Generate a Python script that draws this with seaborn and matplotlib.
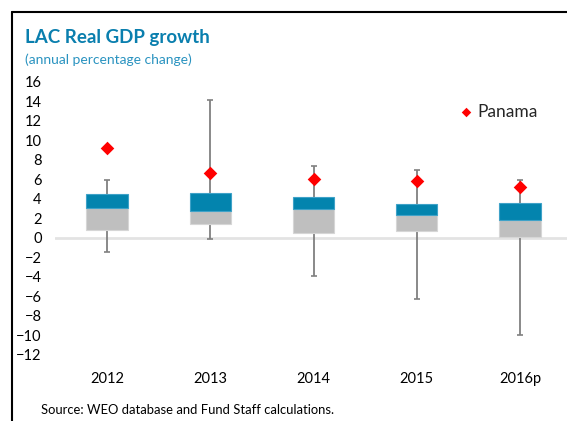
import numpy as np
import matplotlib
matplotlib.use('Agg')
import matplotlib.pyplot as plt
import seaborn as sns
from matplotlib.lines import Line2D

# values (percent)
years = ['2012', '2013', '2014', '2015', '2016p']
whisk_low = [-1.45, -0.1, -3.9, -6.25, -10.0]
box_low = [0.8, 1.45, 0.5, 0.75, 0.15]
box_mid = [3.1, 2.8, 3.0, 2.4, 1.8]
box_high = [4.5, 4.65, 4.2, 3.5, 3.55]
whisk_high = [5.95, 14.1, 7.4, 7.0, 5.95]
panama = [9.2, 6.7, 6.1, 5.8, 5.2]

blue = '#0384AE'
grey = '#BFBFBF'

sns.set_style('white')
plt.rcParams['font.family'] = ['Lato', 'DejaVu Sans']

fig = plt.figure(figsize=(5.67, 4.21), dpi=100)
ax = fig.add_axes([0.0977, 0.1568, 0.9023, 0.6485])

# zero line
ax.axhline(0, color='#E3E3E3', lw=2, zorder=0)

# whiskers (min - max)
pos = np.arange(len(years))
ax.errorbar(pos, box_mid,
            yerr=[np.subtract(box_mid, whisk_low), np.subtract(whisk_high, box_mid)],
            fmt='none', ecolor='#808080', elinewidth=1.3, capsize=2.2, capthick=1.2, zorder=1)

# lower part of the box: grey, upper part: blue
sns.barplot(x=years, y=np.subtract(box_mid, box_low), bottom=box_low, color=grey,
            width=0.4, edgecolor='#D6D6D6', linewidth=0.8, saturation=1, ax=ax, zorder=2)
sns.barplot(x=years, y=np.subtract(box_high, box_mid), bottom=box_mid, color=blue,
            width=0.4, edgecolor='#3FA2C8', linewidth=0.8, saturation=1, ax=ax, zorder=2)

# Panama
sns.scatterplot(x=years, y=panama, marker='D', color='#FF0000', s=48, linewidth=0,
                ax=ax, zorder=3, label='Panama')

ax.set_xlim(-0.5, 4.455)
ax.set_ylim(-12, 16)
ax.set_yticks(range(-12, 17, 2))
ax.tick_params(axis='y', length=0, pad=10, labelsize=10.5, colors='#000000')
ax.tick_params(axis='x', length=0, pad=12, labelsize=10.5, colors='#000000')
ax.set_xlabel('')
ax.set_ylabel('')
sns.despine(ax=ax, left=True, bottom=True)

ax.legend(loc='center left', bbox_to_anchor=(0.793, 0.735), bbox_transform=fig.transFigure,
          frameon=False, fontsize=12.5, handletextpad=0.2, borderpad=0, handlelength=0.9,
          markerscale=0.7)

# titles and source
fig.text(25 / 567, 1 - 38 / 421, 'LAC Real GDP growth', fontsize=13.5, fontweight='bold',
         color='#0A7FAE', va='center')
fig.text(25 / 567, 1 - 60 / 421, '(annual percentage change)', fontsize=10,
         color='#2A93C0', va='center')
fig.text(41 / 567, 1 - 410 / 421, 'Source: WEO database and Fund Staff calculations.',
         fontsize=9.4, color='#000000', va='center')

# frame lines
fig.add_artist(Line2D([12 / 567, 12 / 567], [0, 1 - 12 / 421], color='black', lw=1.5,
                      transform=fig.transFigure))
fig.add_artist(Line2D([12 / 567, 1], [1 - 12 / 421, 1 - 12 / 421], color='black', lw=1.5,
                      transform=fig.transFigure))

fig.savefig('out.png', dpi=100)
